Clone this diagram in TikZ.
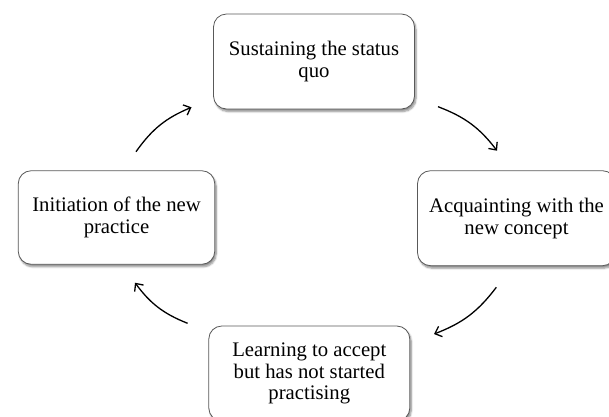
\documentclass[tikz,border=0pt]{standalone}
\usepackage{fontspec}
\setmainfont{Liberation Serif}
\usetikzlibrary{arrows.meta,shadows.blur}
\begin{document}
\begin{tikzpicture}[x=1pt,y=-1pt,
  stage/.style={draw=black!65, line width=0.8pt, rounded corners=13pt, fill=white,
    align=center, inner sep=0pt, font=\fontsize{20.7}{21.8}\selectfont,
    blur shadow={shadow xshift=1.5pt, shadow yshift=-2.5pt, shadow blur steps=6, shadow opacity=45}},
  flow/.style={line width=1.3pt, -{Straight Barb[length=6pt,width=11pt,line width=1.3pt]}, bend left=16}]
\useasboundingbox (0,0) rectangle (609,416);
\clip (0,0) rectangle (609,416);
\node[stage, minimum width=201pt, minimum height=95pt] (top) at (314,61.5) {Sustaining the status\\quo};
\node[stage, minimum width=198pt, minimum height=95pt] (right) at (516.5,218.2) {Acquainting with the\\new concept};
\node[stage, minimum width=201pt, minimum height=95pt] (bottom) at (309.3,373.5) {Learning to accept\\but has not started\\practising};
\node[stage, minimum width=196.5pt, minimum height=93.6pt] (left) at (116.5,217.5) {Initiation of the new\\practice};
\coordinate (a1) at (136,151.7); \coordinate (a2) at (191.5,107.3);
\coordinate (b1) at (438,106.7); \coordinate (b2) at (497,150.7);
\coordinate (c1) at (496.3,287.3); \coordinate (c2) at (434,334);
\coordinate (d1) at (187.6,323.3); \coordinate (d2) at (135,282.7);
\draw[flow] (a1) to (a2);
\draw[flow] (b1) to (b2);
\draw[flow] (c1) to (c2);
\draw[flow] (d1) to (d2);
\end{tikzpicture}
\end{document}
